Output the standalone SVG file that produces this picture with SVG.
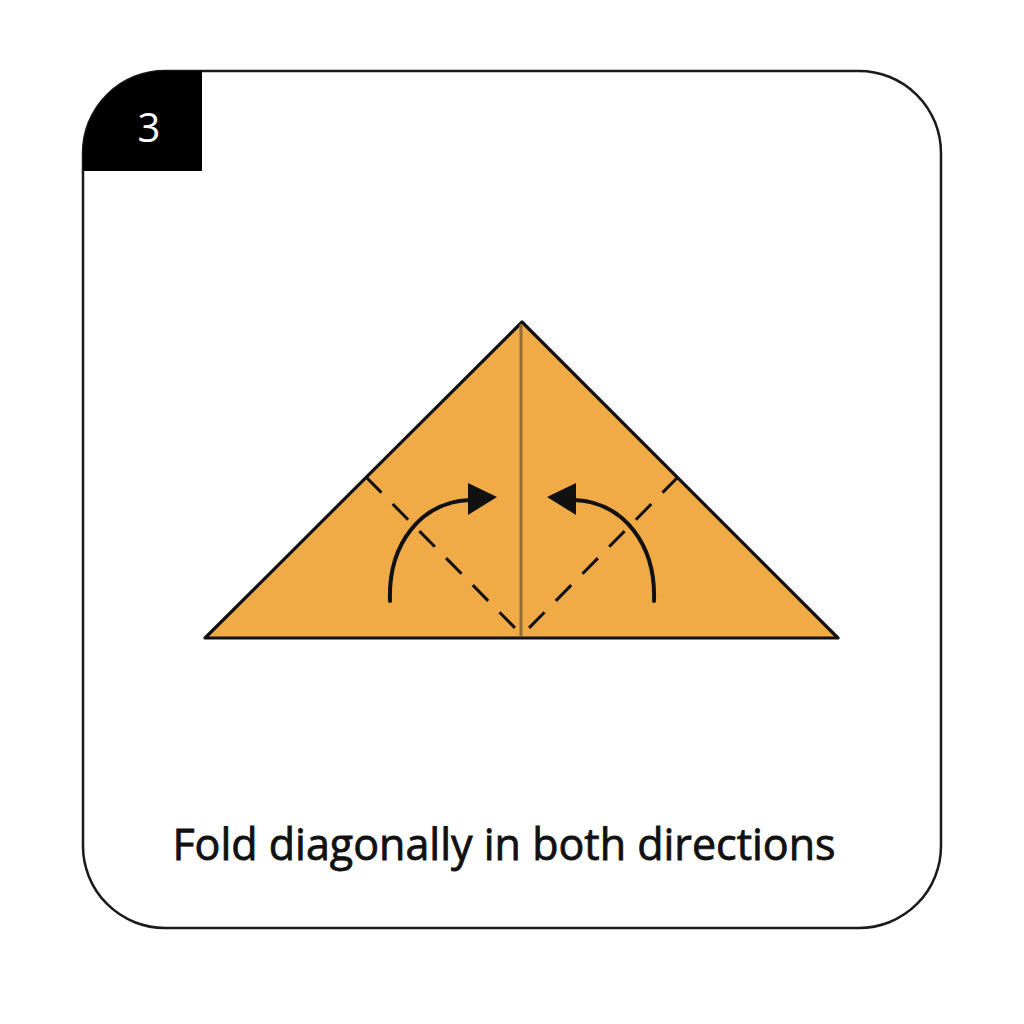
<svg xmlns="http://www.w3.org/2000/svg" width="1024" height="1024" viewBox="0 0 1024 1024">
<defs>
<style>
.card{fill:#fff;stroke:#1a1a1a;stroke-width:2.5}
.paper{fill:#F0AB47;stroke:#111;stroke-width:3.2;stroke-linejoin:round}
.center{stroke:#946B35;stroke-width:3}
.crease{stroke:#111;stroke-width:3;stroke-dasharray:22 16;fill:none}
.arc{stroke:#111;stroke-width:4;fill:none;stroke-linecap:round}
.cap{font-family:"Open Sans","Noto Sans",sans-serif;font-size:43px;font-weight:500;fill:#111;stroke:#111;stroke-width:0.8}
</style>
</defs>
<g id="card">
<rect class="card" x="83" y="71" width="858" height="857" rx="82" ry="82"/>
</g>
<g id="badge">
<path d="M83,171 V153 A82,82 0 0 1 165,71 H202 V171 Z" fill="#000"/>
<text x="149" y="142" text-anchor="middle" font-family="'Open Sans',sans-serif" font-size="40" fill="#fff">3</text>
</g>
<g id="paper">
<polygon class="paper" points="522,322 838,638 205,638"/>
<line class="center" x1="521" y1="324" x2="521" y2="636"/>
</g>
<g id="connectors">
<line class="crease" x1="366" y1="477" x2="519" y2="632"/>
<line class="crease" x1="678" y1="477" x2="525" y2="632"/>
<path class="arc" d="M390,601 C388,545 420,502 470,500"/>
<polygon points="497,497 468,483 468,515" fill="#111"/>
<path class="arc" d="M654,601 C656,545 624,502 574,500"/>
<polygon points="547,497 576,483 576,515" fill="#111"/>
</g>
<g id="caption">
<text class="cap" x="504" y="860" text-anchor="middle">Fold diagonally in both directions</text>
</g>
</svg>
